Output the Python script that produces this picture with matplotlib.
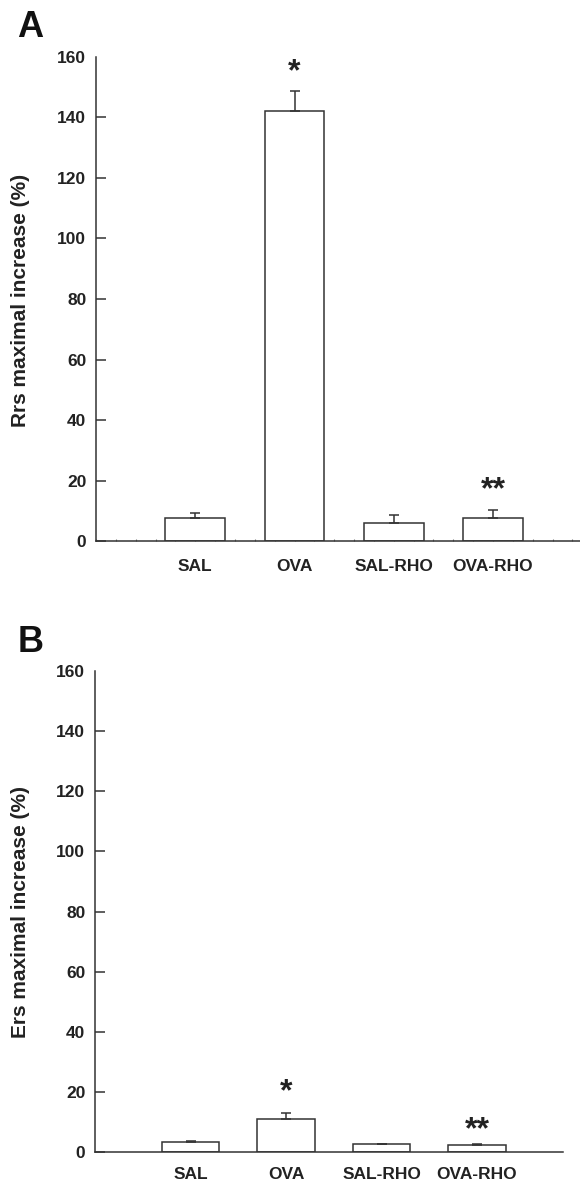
import matplotlib
matplotlib.use("Agg")
import matplotlib.pyplot as plt
from matplotlib.ticker import MultipleLocator
import numpy as np

groups = ["SAL", "OVA", "SAL-RHO", "OVA-RHO"]
rrs_mean = [7.8, 142.0, 6.0, 7.6]
rrs_err = [1.7, 6.6, 2.8, 2.7]
ers_mean = [3.2, 10.9, 2.5, 2.4]
ers_err = [0.3, 2.1, 0.2, 0.2]
rrs_marks = ["", "*", "", "**"]
ers_marks = ["", "*", "", "**"]
yticks = [0, 20, 40, 60, 80, 100, 120, 140, 160]

plt.rcParams['font.family'] = ['Liberation Sans', 'DejaVu Sans']
plt.rcParams['font.weight'] = 'bold'

W, H = 580, 1183
fig = plt.figure(figsize=(W / 100, H / 100), dpi=100)
LC = '#333333'

def px_axes(l, r, t, b):
    return fig.add_axes([l / W, 1 - b / H, (r - l) / W, (b - t) / H])

axA = px_axes(96, 580, 56.7, 541.3)
axB = px_axes(95, 563, 671, 1152)

def draw(ax, means, errs, marks, xlim, mark_y, xpad, minor):
    x = np.arange(len(groups))
    ax.bar(x, means, width=0.6, color='white', edgecolor=LC, linewidth=1.1, zorder=2)
    ax.errorbar(x, means, yerr=[np.zeros(len(errs)), errs], fmt='none', ecolor=LC,
                elinewidth=1.1, capsize=3.4, capthick=1.1, zorder=3)
    for xi, m, yy in zip(x, marks, mark_y):
        if m:
            ax.text(xi, yy, m, ha='center', va='baseline', fontsize=23, color='#222222')
    ax.set_xlim(*xlim)
    ax.set_ylim(0, 160)
    ax.set_yticks(yticks)
    ax.set_xticks(x)
    ax.set_xticklabels(groups, fontsize=12.5, fontweight='bold', color='#222222')
    ax.tick_params(axis='y', direction='in', length=7.2, width=1.1, color=LC,
                   pad=7, labelsize=12.5, labelcolor='#222222')
    ax.yaxis.get_major_ticks()[-1].tick1line.set_visible(False)
    if minor:
        ax.xaxis.set_minor_locator(MultipleLocator(0.2))
        ax.tick_params(axis='x', which='both', direction='in', length=1.6, width=0.8,
                       color='#777777', pad=xpad)
    else:
        ax.tick_params(axis='x', which='both', length=0, pad=xpad)
    for s in ['top', 'right']:
        ax.spines[s].set_visible(False)
    for s in ['left', 'bottom']:
        ax.spines[s].set_linewidth(1.1)
        ax.spines[s].set_color(LC)
    for lab in ax.get_yticklabels():
        lab.set_fontweight('bold')

draw(axA, rrs_mean, rrs_err, rrs_marks, (-1.0, 3.876), [0, 152.2, 0, 14.1], 13, True)
draw(axB, ers_mean, ers_err, ers_marks, (-1.0, 3.9), [0, 17.1, 0, 4.6], 10.5, False)

fig.text(21 / W, 1 - 300 / H, "Rrs maximal increase (%)", rotation=90, ha='center',
         va='center', fontsize=15, fontweight='bold', color='#222222')
fig.text(21 / W, 1 - 912 / H, "Ers maximal increase (%)", rotation=90, ha='center',
         va='center', fontsize=15, fontweight='bold', color='#222222')

fig.text(17 / W, 1 - 37.3 / H, "A", ha='left', va='baseline', fontsize=26,
         fontweight='bold', color='#111111')
fig.text(18 / W, 1 - 652 / H, "B", ha='left', va='baseline', fontsize=26,
         fontweight='bold', color='#111111')

fig.savefig("out.png", dpi=100)
